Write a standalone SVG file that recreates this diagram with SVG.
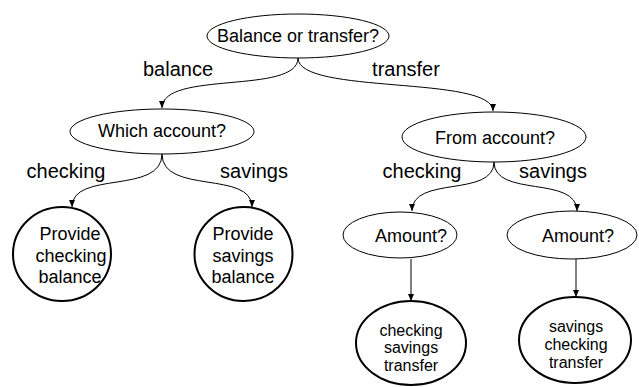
<svg xmlns="http://www.w3.org/2000/svg" width="639" height="387" viewBox="0 0 639 387">
<style>
.n{fill:#fff;stroke:#000;stroke-width:1}
.leaf{fill:#fff;stroke:#000;stroke-width:2}
.t{font-family:"Liberation Sans",Arial,sans-serif;font-size:18px;fill:#000;text-anchor:middle}
.s{font-size:16px}
.lab{font-family:"Liberation Sans",Arial,sans-serif;font-size:20px;fill:#000;text-anchor:middle}
.e{fill:none;stroke:#000;stroke-width:1;marker-end:url(#ah)}
</style>
<defs>
<marker id="ah" markerUnits="userSpaceOnUse" markerWidth="8" markerHeight="8" refX="7" refY="3" orient="auto">
<path d="M0,0 L7,3 L0,6 Z" fill="#000"/>
</marker>
</defs>
<rect width="639" height="387" fill="#fff"/>
<g id="connectors">
<path class="e" d="M298,58 C298,95 162,70 162,108"/>
<path class="e" d="M298,58 C298,95 493,75 493,111"/>
<path class="e" d="M162,154 C162,195 72,170 72,207"/>
<path class="e" d="M162,154 C162,195 252,170 252,207"/>
<path class="e" d="M494,162 C494,198 412,175 412,211"/>
<path class="e" d="M494,162 C494,198 577,175 577,211"/>
<line class="e" x1="411" y1="259" x2="411" y2="301"/>
<line class="e" x1="576" y1="259" x2="576" y2="297"/>
</g>
<g id="labels">
<text class="lab" x="178" y="76">balance</text>
<text class="lab" x="406" y="76">transfer</text>
<text class="lab" x="66" y="178">checking</text>
<text class="lab" x="254" y="178">savings</text>
<text class="lab" x="422" y="178">checking</text>
<text class="lab" x="553" y="178">savings</text>
</g>
<g id="root">
<ellipse class="n" cx="298" cy="36" rx="91" ry="22"/>
<text class="t" x="298" y="42">Balance or transfer?</text>
</g>
<g id="which">
<ellipse class="n" cx="162" cy="131.5" rx="92" ry="22.5"/>
<text class="t" x="162" y="137">Which account?</text>
</g>
<g id="from">
<ellipse class="n" cx="494" cy="137" rx="92" ry="25"/>
<text class="t" x="495" y="144">From account?</text>
</g>
<g id="amount1">
<ellipse class="n" cx="400" cy="235" rx="57" ry="23"/>
<text class="t" x="411" y="242">Amount?</text>
</g>
<g id="amount2">
<ellipse class="n" cx="572" cy="235" rx="65" ry="24"/>
<text class="t" x="578" y="242">Amount?</text>
</g>
<g id="checkbal">
<ellipse class="leaf" cx="62" cy="254" rx="49" ry="47"/>
<text class="t" x="70" y="240">Provide</text>
<text class="t" x="71" y="262">checking</text>
<text class="t" x="70" y="283">balance</text>
</g>
<g id="savbal">
<ellipse class="leaf" cx="243.5" cy="254" rx="49" ry="47"/>
<text class="t" x="243" y="240">Provide</text>
<text class="t" x="243" y="262">savings</text>
<text class="t" x="243" y="283">balance</text>
</g>
<g id="cstransfer">
<ellipse class="leaf" cx="411" cy="343" rx="55" ry="42"/>
<text class="t s" x="411" y="336">checking</text>
<text class="t s" x="411" y="353">savings</text>
<text class="t s" x="411" y="371">transfer</text>
</g>
<g id="sctransfer">
<ellipse class="leaf" cx="575" cy="340" rx="56" ry="43"/>
<text class="t s" x="576" y="332">savings</text>
<text class="t s" x="576" y="350">checking</text>
<text class="t s" x="576" y="368">transfer</text>
</g>
</svg>
